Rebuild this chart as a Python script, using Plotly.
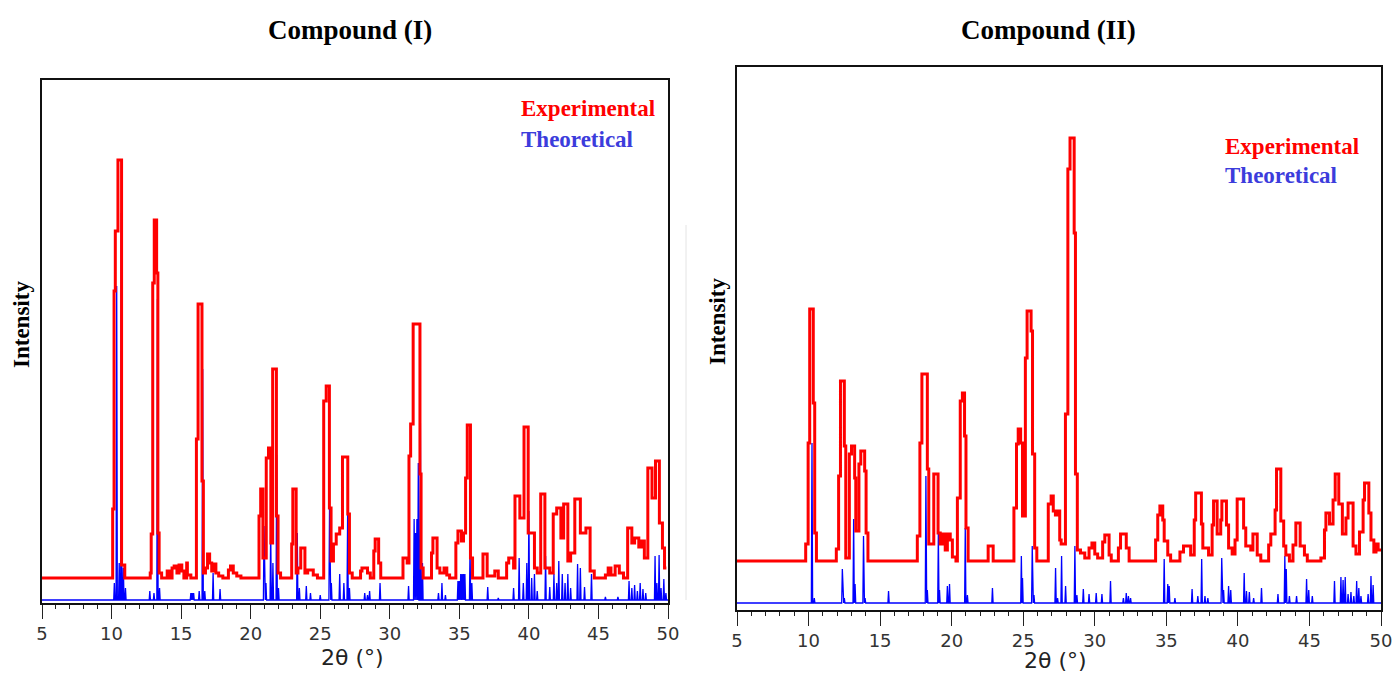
import plotly.graph_objects as go

# ---------------- Compound (I) ----------------
# experimental pattern: step vertices (2theta, intensity in arbitrary units)
exp1_tt = [5.0, 10.08, 10.18, 10.27, 10.46, 10.72, 10.95, 12.78, 12.85, 12.96, 13.07, 13.24, 13.33, 13.42, 13.6,
           14.0, 14.15, 14.35, 14.5, 14.7, 14.85, 15.05, 15.2, 15.4, 15.45, 15.7,
           16.1, 16.22, 16.5, 16.6, 16.75, 16.9, 17.05, 17.2, 17.35, 17.5, 17.7, 18.0, 18.4, 18.55, 18.75, 19.0, 19.3,
           20.6, 20.72, 20.88, 21.12, 21.28, 21.45, 21.58, 21.85, 21.97, 22.15,
           22.95, 23.03, 23.27, 23.4, 23.6, 23.9, 24.1, 24.5, 24.8,
           25.25, 25.43, 25.66, 25.78, 25.95, 26.15, 26.4, 26.6, 26.98, 27.1, 27.3,
           27.9, 28.0, 28.4, 28.6, 28.85, 28.95, 29.2, 29.35,
           30.95, 31.25, 31.38, 31.5, 31.68, 32.17, 32.25, 32.4,
           33.0, 33.1, 33.4, 33.6, 33.9, 34.1, 34.3, 34.75, 34.9, 35.15, 35.3, 35.45, 35.57, 35.8, 35.95,
           36.7, 37.0, 37.55, 37.8, 38.4, 38.55, 38.9, 39.0, 39.35, 39.65, 39.95, 40.4, 40.6, 40.85, 41.15,
           41.5, 41.75, 42.0, 42.3, 42.5, 42.8, 43.0, 43.3, 43.7, 44.1, 44.4, 44.7, 45.5, 45.7, 45.9, 46.2,
           46.5, 46.8, 47.1, 47.4, 47.6, 47.9, 48.1, 48.3, 48.55, 48.85, 49.1, 49.38, 49.6, 49.75, 49.88]
exp1_int = [25, 94, 312, 372, 443, 38, 25, 30, 69, 320, 383, 330, 70, 30, 25,
            32, 25, 35, 37, 30, 38, 32, 25, 40, 28, 25,
            164, 299, 122, 30, 35, 49, 40, 32, 39, 30, 27, 25, 33, 37, 30, 27, 25,
            87, 114, 45, 145, 155, 60, 234, 87, 30, 25,
            59, 114, 30, 35, 55, 30, 33, 28, 25,
            202, 217, 95, 42, 59, 69, 75, 146, 89, 30, 25,
            32, 35, 30, 25, 52, 64, 40, 25,
            45, 40, 147, 179, 279, 129, 35, 25,
            50, 65, 35, 30, 35, 28, 25, 60, 72, 62, 70, 125, 178, 45, 25,
            49, 27, 32, 25, 40, 45, 35, 107, 85, 176, 70, 35, 30, 109, 35,
            30, 89, 95, 65, 99, 42, 50, 104, 70, 75, 32, 25, 28, 35, 28, 37,
            30, 25, 75, 60, 65, 56, 62, 45, 135, 105, 142, 80, 55, 35, 35]

# theoretical pattern: stick positions and heights
theo1_tt = [10.2, 10.37, 10.55, 10.7, 10.85, 11.0, 12.75, 13.05, 13.3, 13.45, 15.7, 15.8, 15.9, 16.3, 16.55,
            16.7, 17.3, 17.8, 20.96, 21.1, 21.44, 21.6, 21.87, 22.0, 23.35, 23.5, 24.0, 24.3, 25.0, 25.67,
            25.8, 26.4, 26.7, 26.97, 27.1, 28.2, 28.4, 28.55, 29.3, 31.35, 31.75, 31.85, 31.95, 32.05, 32.2,
            32.35, 33.5, 33.75, 34.0, 34.9, 35.0, 35.1, 35.2, 35.3, 35.4, 35.77, 35.9, 37.04, 37.8, 38.9,
            39.3, 39.6, 39.85, 40.0, 40.2, 40.4, 40.6, 41.2, 41.5, 41.8, 42.0, 42.15, 42.4, 42.6, 42.8,
            43.0, 43.5, 43.7, 44.0, 44.5, 45.5, 46.4, 47.2, 47.4, 47.6, 47.8, 48.0, 48.2, 48.4, 49.07,
            49.2, 49.36, 49.5, 49.7, 49.85]
theo1_int = [20, 317, 40, 390, 35, 15, 12, 10, 304, 15, 10, 10, 10, 12, 234,
             12, 30, 14, 77, 20, 75, 40, 148, 15, 70, 15, 17, 10, 8, 96,
             20, 29, 20, 89, 15, 10, 8, 12, 20, 17, 84, 70, 84, 140, 180,
             40, 10, 20, 8, 22, 22, 29, 29, 29, 29, 55, 20, 16, 5, 15,
             45, 20, 40, 92, 25, 29, 12, 47, 16, 29, 20, 42, 29, 20, 29,
             15, 39, 35, 16, 29, 6, 6, 22, 15, 18, 12, 20, 14, 10, 47,
             20, 48, 15, 24, 10]
theo1_base = 3

# ---------------- Compound (II) ----------------
exp2_tt = [5.0, 9.8, 9.97, 10.08, 10.33, 10.43, 10.55,
           11.94, 12.1, 12.23, 12.5, 12.6, 12.85, 13.0, 13.22, 13.3, 13.52, 13.65, 13.92, 14.02, 14.15,
           17.6, 17.78, 17.92, 18.3, 18.4, 18.75, 19.05, 19.2, 19.4, 19.55, 19.7, 19.9, 20.05, 20.3,
           20.4, 20.6, 20.75, 20.9, 21.0, 21.15, 22.55, 22.9,
           24.35, 24.53, 24.65, 24.82, 24.95, 25.15, 25.27, 25.55, 25.65, 25.8, 25.95,
           26.75, 26.95, 27.1, 27.25, 27.4, 27.55, 27.65, 27.95, 28.12, 28.27, 28.56, 28.65, 28.78,
           29.0, 29.3, 29.6, 29.8, 30.0, 30.2, 30.55, 30.7, 31.0, 31.15, 31.65, 31.8, 32.2, 32.4,
           34.25, 34.4, 34.55, 34.75, 34.85, 35.1, 35.3, 35.95, 36.2, 36.7, 36.95, 37.05, 37.45, 37.55,
           37.95, 38.2, 38.3, 38.55, 38.8, 38.88, 39.2, 39.35, 39.6, 39.8, 39.95, 40.4, 40.55, 40.9,
           41.05, 41.35, 41.6, 42.15, 42.3, 42.6, 42.7, 43.0, 43.2, 43.35, 43.6, 43.85, 44.05, 44.35,
           44.65, 44.85, 45.8, 46.05, 46.15, 46.4, 46.65, 46.8, 47.05, 47.3, 47.55, 47.7, 48.05, 48.25,
           48.5, 48.75, 48.85, 49.15, 49.3, 49.5, 49.65, 49.8, 50.0]
exp2_int = [49, 66, 167, 301, 207, 77, 49,
            61, 134, 229, 164, 52, 156, 164, 132, 79, 146, 159, 139, 77, 49,
            74, 167, 236, 141, 66, 136, 77, 66, 76, 60, 76, 70, 53, 49,
            112, 209, 217, 174, 82, 49, 64, 49,
            102, 166, 181, 167, 94, 252, 299, 279, 156, 62, 49,
            106, 114, 99, 95, 99, 70, 66, 196, 441, 472, 377, 136, 60,
            57, 52, 62, 67, 56, 52, 68, 75, 55, 49, 62, 76, 62, 49,
            70, 95, 104, 90, 69, 55, 49, 58, 64, 55, 90, 117, 86, 62,
            55, 85, 109, 76, 90, 109, 85, 62, 56, 70, 111, 82, 64, 60,
            76, 55, 49, 65, 76, 100, 141, 89, 64, 55, 49, 65, 87, 64,
            55, 49, 52, 80, 97, 86, 110, 136, 106, 76, 92, 107, 64, 56,
            78, 110, 127, 97, 70, 58, 66, 60, 60]

theo2_tt = [10.24, 10.4, 12.36, 12.5, 13.15, 13.25, 13.84, 13.95, 15.59, 18.2, 18.3, 19.07, 19.15, 19.7,
            19.85, 20.95, 21.1, 22.85, 24.87, 24.95, 25.63, 25.75, 27.26, 27.4, 27.68, 27.96, 28.61,
            28.75, 29.2, 29.6, 30.1, 30.5, 31.1, 32.0, 32.2, 32.35, 32.5, 34.85, 35.1, 35.2, 35.6, 36.8,
            37.2, 37.47, 37.7, 37.9, 38.87, 39.0, 39.35, 39.5, 40.44, 40.6, 40.8, 41.1, 41.65, 42.8,
            43.28, 43.38, 43.6, 44.1, 44.8, 44.95, 45.2, 46.75, 47.2, 47.35, 47.5, 47.7, 47.9, 48.1,
            48.3, 48.45, 48.6, 49.1, 49.3, 49.45]
theo2_int = [167, 12, 41, 12, 91, 26, 74, 12, 19, 134, 20, 77, 20, 24,
             26, 82, 15, 22, 54, 32, 64, 15, 42, 12, 54, 24, 64,
             15, 21, 16, 17, 16, 29, 12, 17, 14, 12, 51, 26, 24, 12, 21,
             14, 51, 14, 12, 52, 20, 24, 20, 37, 19, 18, 12, 22, 16,
             54, 41, 14, 14, 31, 20, 14, 29, 33, 30, 33, 16, 18, 14,
             29, 22, 14, 16, 34, 25]
theo2_base = 7

x_ticks = [5, 10, 15, 20, 25, 30, 35, 40, 45, 50]

RED = "#ff0000"
BLUE = "#0000ff"
BLUE_TXT = "#3c3cdc"

W, H = 1392, 675


def sticks(tt, inten, base, half=0.045):
    xs, ys = [5.0], [base]
    for p, h in zip(tt, inten):
        xs += [p - half, p, p + half]
        ys += [base, h, base]
    xs.append(50.0)
    ys.append(base)
    return xs, ys


fig = go.Figure()

t1x, t1y = sticks(theo1_tt, theo1_int, theo1_base)
t2x, t2y = sticks(theo2_tt, theo2_int, theo2_base)

fig.add_trace(go.Scatter(x=t1x, y=t1y, mode="lines", line=dict(color=BLUE, width=1.3),
                         xaxis="x", yaxis="y", name="Theoretical", showlegend=False))
fig.add_trace(go.Scatter(x=exp1_tt, y=exp1_int, mode="lines", line=dict(color=RED, width=3, shape="hv"),
                         xaxis="x", yaxis="y", name="Experimental", showlegend=False))
fig.add_trace(go.Scatter(x=t2x, y=t2y, mode="lines", line=dict(color=BLUE, width=1.3),
                         xaxis="x2", yaxis="y2", name="Theoretical", showlegend=False))
fig.add_trace(go.Scatter(x=exp2_tt, y=exp2_int, mode="lines", line=dict(color=RED, width=3, shape="hv"),
                         xaxis="x2", yaxis="y2", name="Experimental", showlegend=False))

# plot area boxes in window pixels: left, right, top, bottom
L1 = (42, 668, 80, 603)
L2 = (737, 1381, 67, 610)


def px(x):
    return x / W


def py(y):
    return 1 - y / H


def dom_x(b):
    return [px(b[0]), px(b[1])]


def dom_y(b):
    return [py(b[3]), py(b[2])]


xcommon = dict(range=[5, 50], tickvals=x_ticks, ticks="outside", ticklen=14, tickwidth=1.4,
               tickcolor="#222", showline=True, linecolor="#111", linewidth=1.6, mirror=True,
               showgrid=False, zeroline=False, automargin=False, ticklabeloverflow="allow",
               tickfont=dict(family="DejaVu Sans", size=18, color="#333"),
               minor=dict(dtick=1, ticks="outside", ticklen=4, tickwidth=1, tickcolor="#222", showgrid=False))
ycommon = dict(showline=True, linecolor="#111", linewidth=1.6, mirror=True, showgrid=False,
               zeroline=False, showticklabels=False, ticks="", automargin=False)

fig.update_layout(
    width=W, height=H, autosize=False,
    margin=dict(l=0, r=0, t=0, b=0, pad=0),
    paper_bgcolor="white", plot_bgcolor="white",
    xaxis=dict(domain=dom_x(L1), anchor="y", **xcommon),
    yaxis=dict(domain=dom_y(L1), anchor="x", range=[0, L1[3] - L1[2]], **ycommon),
    xaxis2=dict(domain=dom_x(L2), anchor="y2", **xcommon),
    yaxis2=dict(domain=dom_y(L2), anchor="x2", range=[0, L2[3] - L2[2]], **ycommon),
)

serif = "Liberation Serif"
ann = []
ann.append(dict(x=px(350), y=py(30), text="<b>Compound (I)</b>", font=dict(family=serif, size=27, color="black")))
ann.append(dict(x=px(1048), y=py(30), text="<b>Compound (II)</b>", font=dict(family=serif, size=27, color="black")))
ann.append(dict(x=px(22), y=py(325), text="<b>Intensity</b>", textangle=-90,
                font=dict(family=serif, size=23, color="black")))
ann.append(dict(x=px(717), y=py(322), text="<b>Intensity</b>", textangle=-90,
                font=dict(family=serif, size=23, color="black")))
ann.append(dict(x=px(352), y=py(657), text="2θ (°)", font=dict(family="DejaVu Sans", size=22, color="#222")))
ann.append(dict(x=px(1055), y=py(660), text="2θ (°)", font=dict(family="DejaVu Sans", size=22, color="#222")))
ann.append(dict(x=px(519), y=py(109), text="<b>Experimental</b>", xanchor="left",
                font=dict(family=serif, size=23, color=RED)))
ann.append(dict(x=px(519), y=py(139), text="<b>Theoretical</b>", xanchor="left",
                font=dict(family=serif, size=23, color=BLUE_TXT)))
ann.append(dict(x=px(1223), y=py(146), text="<b>Experimental</b>", xanchor="left",
                font=dict(family=serif, size=23, color=RED)))
ann.append(dict(x=px(1223), y=py(175), text="<b>Theoretical</b>", xanchor="left",
                font=dict(family=serif, size=23, color=BLUE_TXT)))
for a in ann:
    a.setdefault("xanchor", "center")
    a.update(xref="paper", yref="paper", yanchor="middle", showarrow=False)
fig.update_layout(annotations=ann)

# faint separator between panels
fig.add_shape(type="line", xref="paper", yref="paper", x0=px(686), x1=px(686), y0=py(225), y1=py(600),
              line=dict(color="#e4e4e4", width=1))

# remove the default 8px page margin so the figure fills the window exactly
fig.write_html("out.html", config={"displayModeBar": False},
               post_script="document.body.style.margin='0px';document.body.style.overflow='hidden';")
